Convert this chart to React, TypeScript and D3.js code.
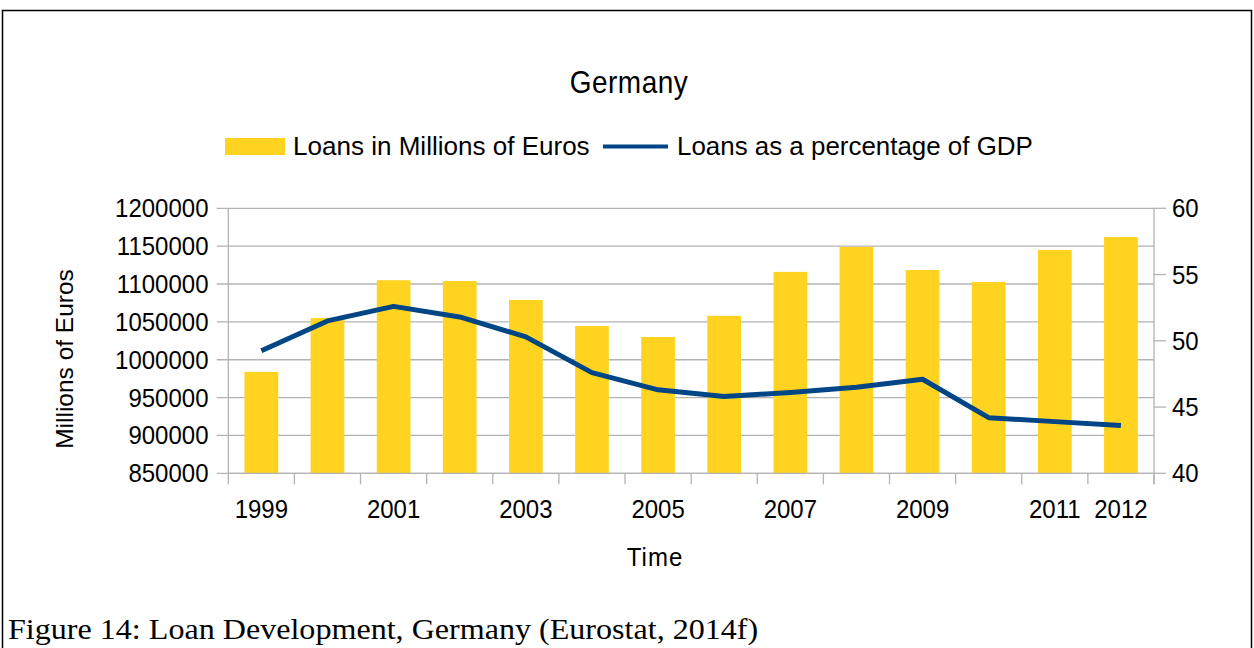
import React from 'react';
import * as d3 from 'd3';

const years = ['1999', '2000', '2001', '2002', '2003', '2004', '2005', '2006', '2007', '2008', '2009', '2010', '2011', '2012'];
const loansMillions = [984000, 1055000, 1105000, 1104000, 1079000, 1044500, 1030000, 1058000, 1116000, 1149000, 1118500, 1102700, 1145000, 1162000];
const loansPctGdp = [49.25, 51.5, 52.6, 51.8, 50.3, 47.6, 46.3, 45.8, 46.1, 46.5, 47.1, 44.2, 43.9, 43.6];
const yearLabels = ['1999', '2001', '2003', '2005', '2007', '2009', '2011', '2012'];
const leftTicks = [850000, 900000, 950000, 1000000, 1050000, 1100000, 1150000, 1200000];
const rightTicks = [40, 45, 50, 55, 60];

const W = 1254;
const H = 648;
const plot = { left: 228.3, right: 1154, top: 208.3, bottom: 473.3 };
const sans = '"Liberation Sans", Arial, sans-serif';
const serif = '"Liberation Serif", "Times New Roman", serif';
const gridColor = '#b3b3b3';
const barColor = '#ffd320';
const lineColor = '#004586';

// text is a bit stretched in the source image
const tr = (x: number, y: number, sx = 1, sy = 1.09) => `translate(${x},${y}) scale(${sx},${sy})`;

export default function App() {
  const x = d3.scaleBand().domain(years).range([plot.left, plot.right]).padding(0);
  const yL = d3.scaleLinear().domain([850000, 1200000]).range([plot.bottom, plot.top]);
  const yR = d3.scaleLinear().domain([40, 60]).range([plot.bottom, plot.top]);
  const bw = x.bandwidth();
  const barW = bw * 0.51;
  const cx = (y: string) => (x(y) || 0) + bw / 2;

  const line = d3.line<number>()
    .x((_, i) => cx(years[i]))
    .y(d => yR(d));

  const boundaries = [...years.map(y => x(y) || 0), plot.right];

  return (
    <div style={{ position: 'absolute', left: 0, top: 0 }}>
      <svg width={W} height={H} style={{ display: 'block', background: '#fff' }}>
        {/* outer frame */}
        <path d={`M2.5,${H + 5}V10.5H1251.5V${H + 5}`} fill="none" stroke="#000" strokeWidth={1.5} />

        <text transform={tr(629, 93)} textAnchor="middle" fontFamily={sans} fontSize={28} letterSpacing={0.5}>Germany</text>

        {/* legend */}
        <rect x={225} y={138} width={60} height={17} fill={barColor} />
        <text transform={tr(293, 155, 1.085)} fontFamily={sans} fontSize={24}>Loans in Millions of Euros</text>
        <line x1={603} x2={668} y1={146.5} y2={146.5} stroke={lineColor} strokeWidth={4} />
        <text transform={tr(677, 155, 1.08)} fontFamily={sans} fontSize={24}>Loans as a percentage of GDP</text>

        {/* gridlines */}
        {leftTicks.map(t => (
          <line key={t} x1={plot.left - 11.5} x2={plot.right} y1={yL(t)} y2={yL(t)} stroke={gridColor} strokeWidth={1.3} />
        ))}

        {/* bars */}
        {years.map((y, i) => (
          <rect key={y} x={cx(y) - barW / 2} y={yL(loansMillions[i])} width={barW}
            height={plot.bottom - yL(loansMillions[i])} fill={barColor} />
        ))}

        {/* axes */}
        <line x1={plot.left} x2={plot.left} y1={plot.top} y2={plot.bottom} stroke={gridColor} strokeWidth={1.3} />
        <line x1={plot.right} x2={plot.right} y1={plot.top} y2={plot.bottom + 11} stroke={gridColor} strokeWidth={1.3} />
        <line x1={plot.left} x2={plot.right} y1={plot.bottom} y2={plot.bottom} stroke={gridColor} strokeWidth={1.3} />
        {boundaries.map((b, i) => (
          <line key={i} x1={b} x2={b} y1={plot.bottom} y2={plot.bottom + 11} stroke={gridColor} strokeWidth={1.3} />
        ))}
        {rightTicks.map(t => (
          <line key={t} x1={plot.right} x2={plot.right + 12} y1={yR(t)} y2={yR(t)} stroke={gridColor} strokeWidth={1.3} />
        ))}

        {/* line series */}
        <path d={line(loansPctGdp) || ''} fill="none" stroke={lineColor} strokeWidth={5} strokeLinejoin="round" />

        {/* tick labels */}
        {leftTicks.map(t => (
          <text key={t} transform={tr(208.5, yL(t) + 9)} textAnchor="end" fontFamily={sans} fontSize={24}>{t}</text>
        ))}
        {rightTicks.map(t => (
          <text key={t} transform={tr(1172, yR(t) + 9)} fontFamily={sans} fontSize={24}>{t}</text>
        ))}
        {yearLabels.map(y => (
          <text key={y} transform={tr(cx(y), 518.3)} textAnchor="middle" fontFamily={sans} fontSize={24}>{y}</text>
        ))}

        {/* axis titles */}
        <text transform="translate(73,359) rotate(-90)" textAnchor="middle" fontFamily={sans} fontSize={24.5}>Millions of Euros</text>
        <text transform={tr(655, 566)} textAnchor="middle" fontFamily={sans} fontSize={24} letterSpacing={1}>Time</text>

        <text transform={tr(8, 638.5, 1.118, 1)} fontFamily={serif} fontSize={28.7}>Figure 14: Loan Development, Germany (Eurostat, 2014f)</text>
      </svg>
    </div>
  );
}
